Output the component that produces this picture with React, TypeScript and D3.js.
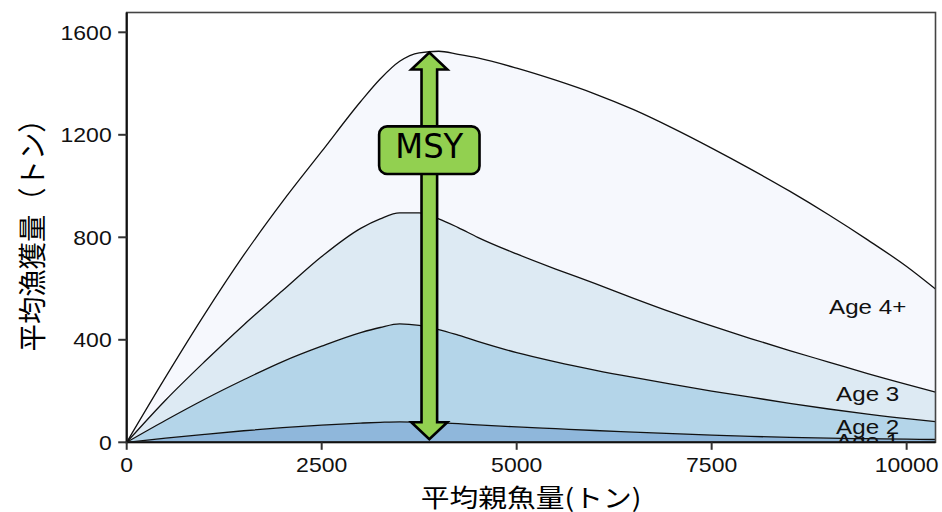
import React from "react";
import * as d3 from "d3";

// Spawning stock biomass grid (tons)
const ssb = [0, 500, 1000, 1500, 2000, 2500, 3000, 3250, 3500, 3750, 4000, 4250, 4500, 5000, 5500, 6000, 6500, 7000, 7500, 8000, 8500, 9000, 9500, 10000, 10370];
// Catch by age (tons)
const age1 = [0, 16, 31, 45, 57, 67, 75, 78, 80, 79, 77, 73, 68, 60, 53, 46, 40, 34, 28, 23, 19, 16, 14, 12, 11];
const age2 = [0, 70, 137, 199, 258, 308, 353, 370, 382, 377, 363, 345, 326, 290, 261, 236, 213, 192, 172, 153, 133, 114, 96, 80, 70];
const age3 = [0, 79, 147, 214, 277, 350, 407, 424, 433, 439, 432, 420, 406, 385, 362, 338, 309, 280, 254, 229, 206, 183, 158, 134, 115];
const age4 = [0, 90, 185, 272, 348, 410, 495, 546, 592, 625, 654, 676, 700, 725, 737, 740, 736, 720, 694, 661, 622, 575, 522, 460, 402];

const ageKeys = ["Age 1", "Age 2", "Age 3", "Age 4+"];
const ageColors = ["#8fb7db", "#b4d5e9", "#ddeaf3", "#f6f8fd"];

const xTicks = [0, 2500, 5000, 7500, 10000];
const yTicks = [0, 400, 800, 1200, 1600];

const msyX = 3880;
const msyY = 1528;
const msyLabelY = 1140;
const labelX = 9500;

const xTitle = "平均親魚量(トン)";
const yTitle = "平均漁獲量（トン）";

const SX = 1.15;

export default function App() {
  const left = 126.7, right = 935.5, bottom = 442.3, top = 12.5;
  const x = d3.scaleLinear().domain([0, 10370]).range([left, right]);
  const y = d3.scaleLinear().domain([0, 1600]).range([bottom, 32.3]);

  const rows = ssb.map((s, i) => ({
    ssb: s,
    "Age 1": age1[i],
    "Age 2": age2[i],
    "Age 3": age3[i],
    "Age 4+": age4[i],
  }));
  const series = d3.stack<any>().keys(ageKeys)(rows);

  const area = d3
    .area<any>()
    .x((d) => x(d.data.ssb))
    .y0((d) => y(d[0]))
    .y1((d) => y(d[1]))
    .curve(d3.curveMonotoneX);
  const line = d3
    .line<any>()
    .x((d) => x(d.data.ssb))
    .y((d) => y(d[1]))
    .curve(d3.curveMonotoneX);

  // arrow geometry
  const cx = x(msyX);
  const yTop = y(msyY) + 1.8;
  const yBot = y(0) - 3;
  const hw = 18, hl = 17, sw = 7.8;
  const arrowPath = [
    `M${cx},${yTop}`,
    `L${cx + hw},${yTop + hl}`,
    `L${cx + sw},${yTop + hl}`,
    `L${cx + sw},${yBot - hl}`,
    `L${cx + hw},${yBot - hl}`,
    `L${cx},${yBot}`,
    `L${cx - hw},${yBot - hl}`,
    `L${cx - sw},${yBot - hl}`,
    `L${cx - sw},${yTop + hl}`,
    `L${cx - hw},${yTop + hl}`,
    "Z",
  ].join(" ");

  const labelIdx = ssb.indexOf(labelX);
  const textFont = "'Liberation Sans', Arial, sans-serif";
  const cjkFont = "'Noto Sans CJK JP', sans-serif";

  return (
    <svg
      width={942}
      height={512}
      style={{ position: "absolute", left: 0, top: 0, background: "#fff" }}
    >
      <defs>
        <clipPath id="panel">
          <rect x={left} y={top} width={right - left} height={bottom - top} />
        </clipPath>
      </defs>
      <g clipPath="url(#panel)">
        {series.map((s, i) => (
          <path key={"a" + i} d={area(s) || ""} fill={ageColors[i]} />
        ))}
        {series.map((s, i) => (
          <path
            key={"l" + i}
            d={line(s) || ""}
            fill="none"
            stroke="#111"
            strokeWidth={1.3}
          />
        ))}
        {series.map((s, i) => {
          const d = s[labelIdx];
          const mid = (d[0] + d[1]) / 2;
          return (
            <text
              key={"t" + i}
              transform={`translate(${x(labelX)},${y(mid) + 7.5}) scale(${SX},1)`}
              textAnchor="middle"
              fontFamily={textFont}
              fontSize={21}
              fill="#111"
            >
              {ageKeys[i]}
            </text>
          );
        })}
      </g>

      {/* panel border */}
      <rect
        x={left}
        y={top}
        width={right - left}
        height={bottom - top}
        fill="none"
        stroke="#444"
        strokeWidth={1.6}
      />
      {/* axis lines */}
      <line x1={left} x2={left} y1={top} y2={bottom + 1} stroke="#111" strokeWidth={2.2} />
      <line x1={left - 1} x2={right} y1={bottom} y2={bottom} stroke="#111" strokeWidth={2} />

      {/* y ticks */}
      {yTicks.map((t) => (
        <g key={"y" + t}>
          <line x1={left - 8.5} x2={left} y1={y(t)} y2={y(t)} stroke="#333" strokeWidth={2} />
          <text
            transform={`translate(${left - 15},${y(t) + 7.2}) scale(${SX},1)`}
            textAnchor="end"
            fontFamily={textFont}
            fontSize={20}
            fill="#111"
          >
            {t}
          </text>
        </g>
      ))}
      {/* x ticks */}
      {xTicks.map((t) => (
        <g key={"x" + t}>
          <line x1={x(t)} x2={x(t)} y1={bottom} y2={bottom + 7.5} stroke="#333" strokeWidth={2} />
          <text
            transform={`translate(${x(t)},${472}) scale(${SX},1)`}
            textAnchor="middle"
            fontFamily={textFont}
            fontSize={20}
            fill="#111"
          >
            {t}
          </text>
        </g>
      ))}

      {/* MSY arrow */}
      <path
        d={arrowPath}
        fill="#92d050"
        stroke="#000"
        strokeWidth={2.6}
        strokeLinejoin="miter"
      />
      <rect
        x={cx - 50.2}
        y={y(msyLabelY) - 23.8}
        width={100.4}
        height={47.6}
        rx={8}
        fill="#92d050"
        stroke="#000"
        strokeWidth={2.6}
      />
      <text
        x={cx}
        y={y(msyLabelY) + 8}
        textAnchor="middle"
        fontFamily="'DejaVu Sans', sans-serif"
        fontSize={34}
        textLength={68}
        lengthAdjust="spacingAndGlyphs"
        fill="#000"
      >
        MSY
      </text>

      {/* axis titles */}
      <text
        transform={`translate(${(left + right) / 2},${507}) scale(${SX},1)`}
        textAnchor="middle"
        fontFamily={cjkFont}
        fontSize={25}
        fill="#000"
      >
        {xTitle}
      </text>
      <text
        transform={`translate(${43},${(top + bottom) / 2 + 1}) scale(${SX},1) rotate(-90)`}
        textAnchor="middle"
        fontFamily={cjkFont}
        fontSize={25}
        textLength={246}
        lengthAdjust="spacingAndGlyphs"
        fill="#000"
      >
        {yTitle}
      </text>
    </svg>
  );
}
